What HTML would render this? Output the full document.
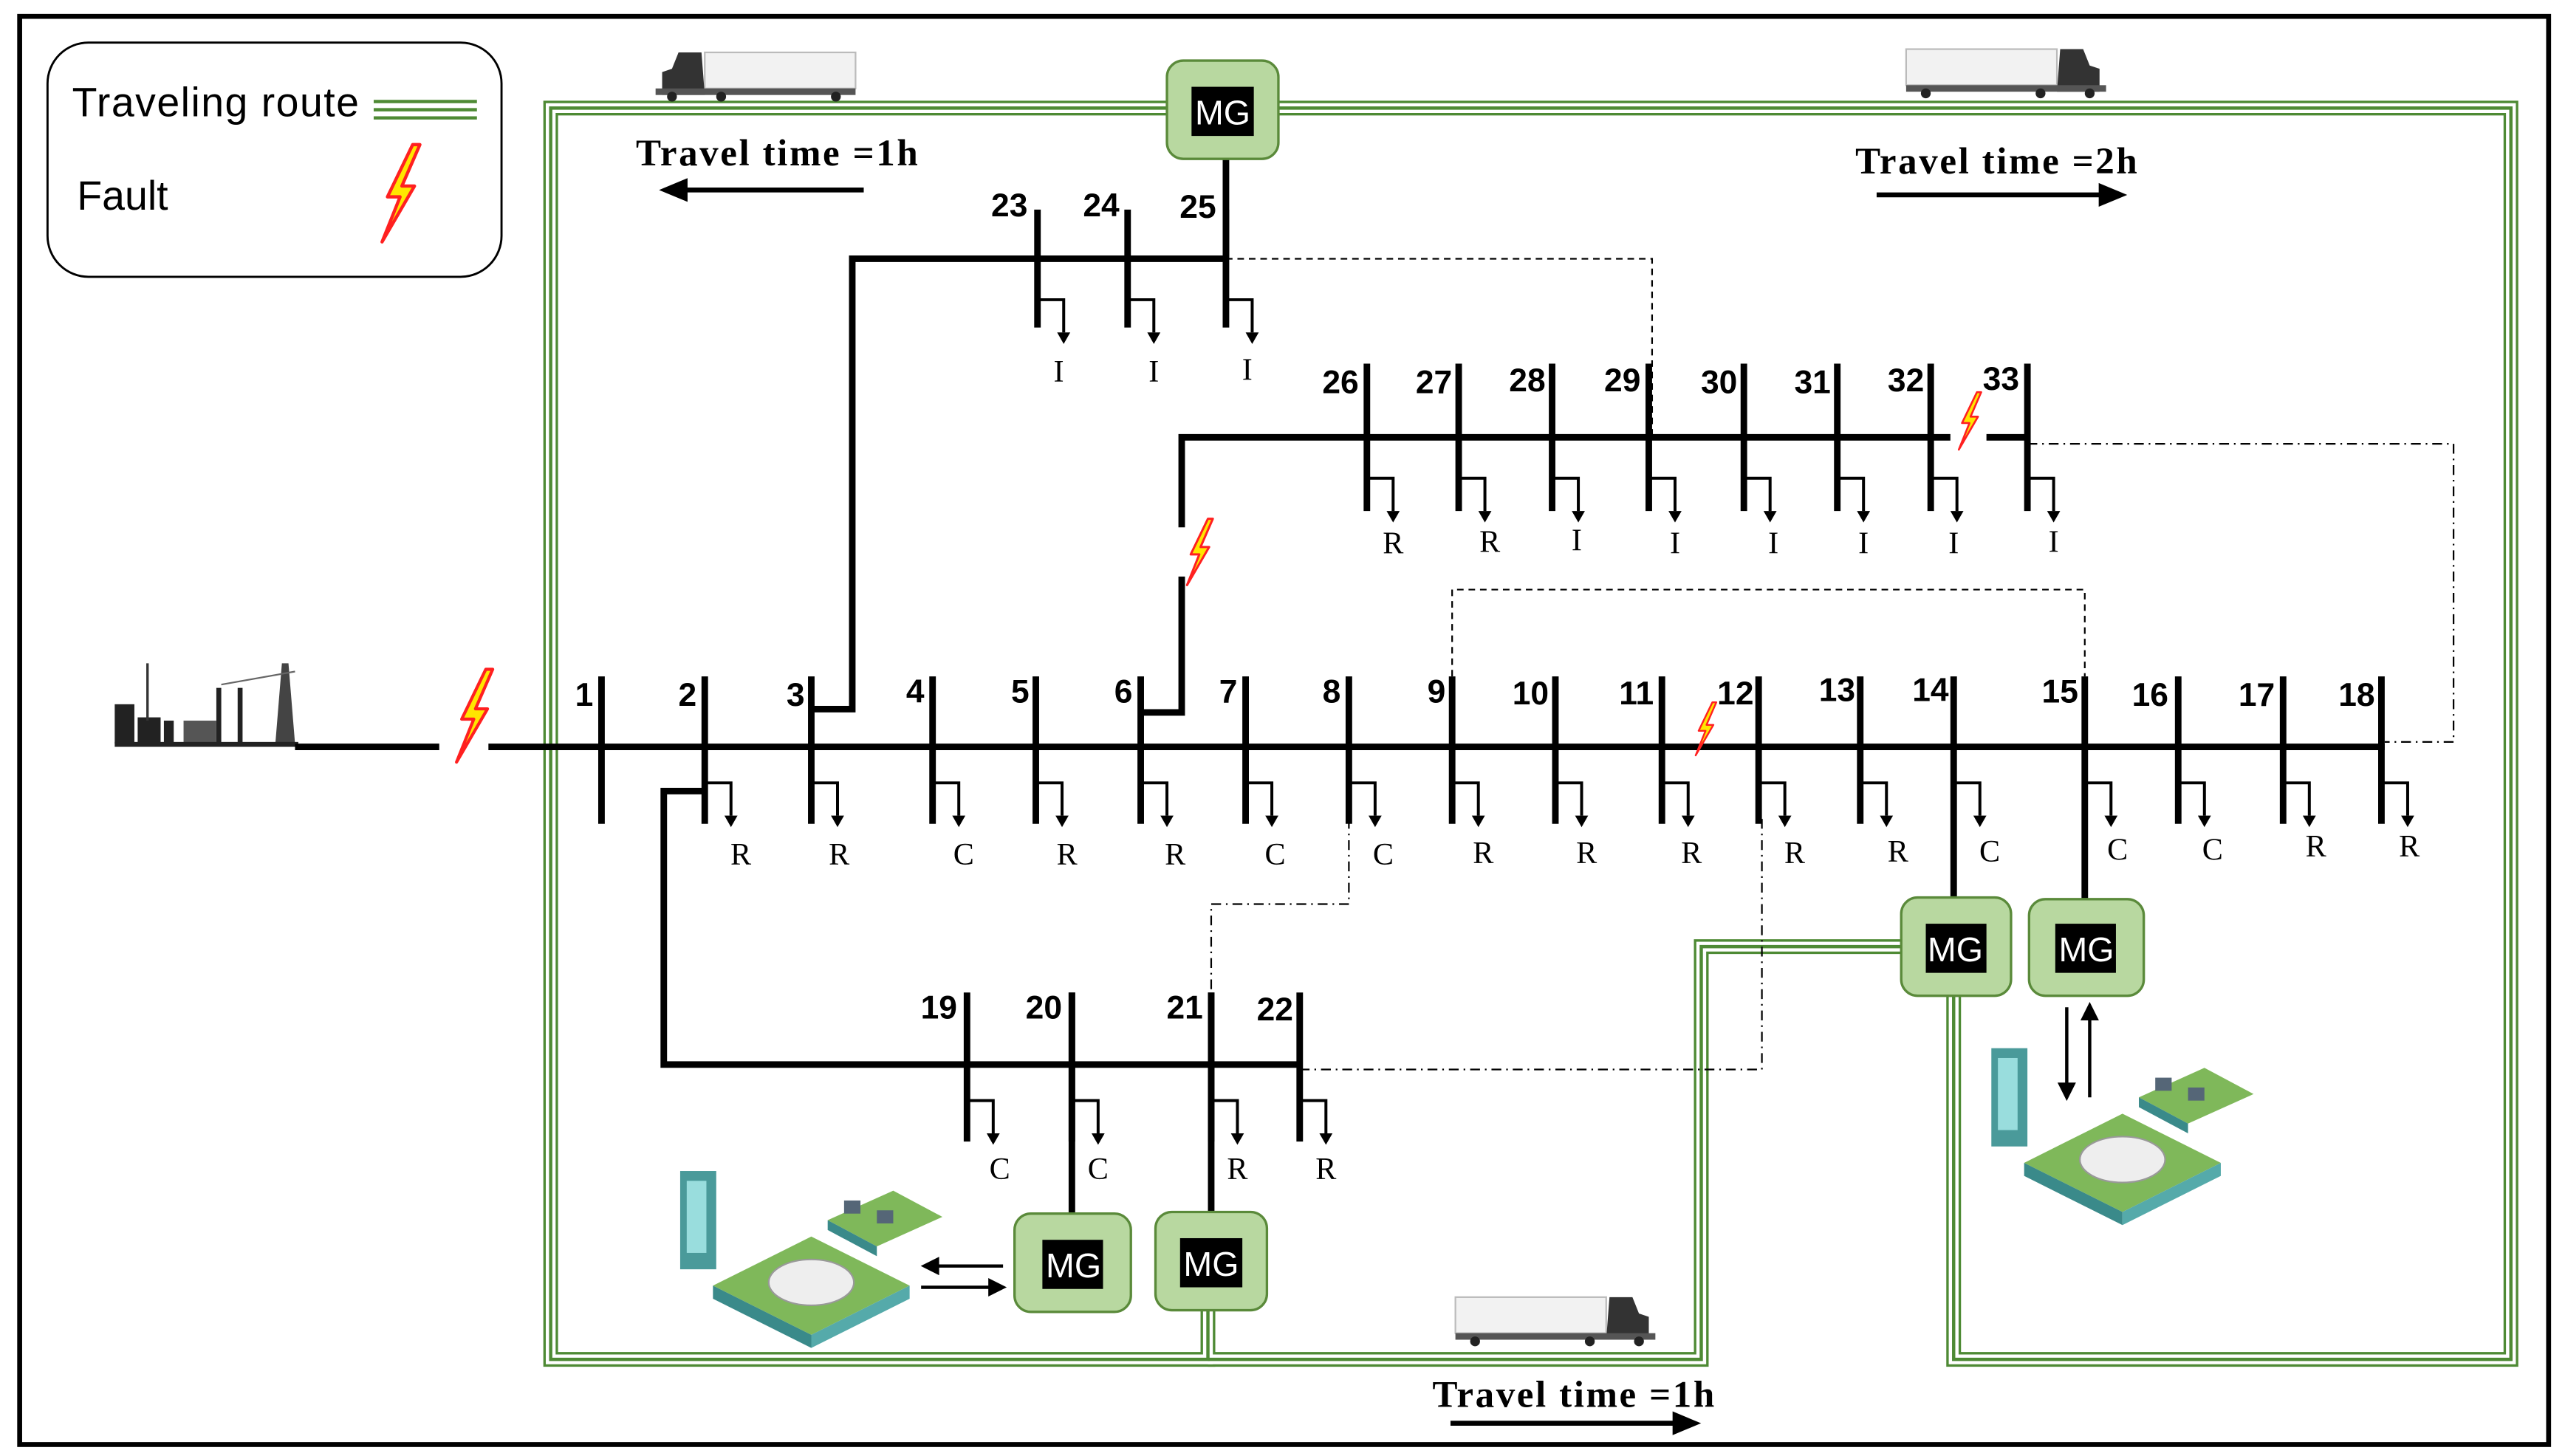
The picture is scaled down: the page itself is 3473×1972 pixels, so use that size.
<!DOCTYPE html>
<html><head><meta charset="utf-8"><style>
html,body{margin:0;padding:0;background:#fff;}
svg{display:block;}
.bl{font-family:"Liberation Sans Narrow","Liberation Sans",sans-serif;font-weight:bold;font-size:20px;}
.ld{font-family:"Liberation Serif",serif;font-size:19px;}
.tt{font-family:"Liberation Serif",serif;font-weight:bold;font-size:23px;}
.mg{font-family:"Liberation Sans Narrow","Liberation Sans",sans-serif;font-size:21px;fill:#fff;}
</style></head><body>
<svg width="3473" height="1972" viewBox="0 0 1565 889" preserveAspectRatio="none" xmlns="http://www.w3.org/2000/svg">
<defs>
<path id="bolt" d="M8,-27 L-6,2 L1,2 L-9,27 L9,-4 L2,-4 L12,-27 Z" fill="#ffe600" stroke="#ff2020" stroke-width="1.8" stroke-linejoin="round"/>
<g id="truckL">
<rect x="30" y="2" width="92" height="22" fill="#f2f2f2" stroke="#bbb"/>
<path d="M4,28 L4,14 L10,12 L14,2 L28,2 L30,28 Z" fill="#333"/>
<rect x="0" y="24" width="122" height="4" fill="#555"/>
<circle cx="10" cy="29" r="3" fill="#222"/><circle cx="40" cy="29" r="3" fill="#222"/><circle cx="110" cy="29" r="3" fill="#222"/>
</g>
<g id="ev">
<rect x="10" y="0" width="22" height="60" fill="#4a9a9a"/>
<rect x="14" y="6" width="12" height="44" fill="#9dd"/>
<polygon points="30,70 90,40 150,70 90,100" fill="#7fb85a"/>
<polygon points="30,70 90,100 90,108 30,78" fill="#3a8a8a"/>
<polygon points="90,100 150,70 150,78 90,108" fill="#5aa"/>
<polygon points="100,30 140,12 170,28 130,46" fill="#7fb85a"/>
<polygon points="100,30 130,46 130,52 100,36" fill="#3a8a8a"/>
<ellipse cx="90" cy="68" rx="26" ry="14" fill="#eee" stroke="#999"/>
<rect x="110" y="18" width="10" height="8" fill="#567"/><rect x="130" y="24" width="10" height="8" fill="#567"/>
</g>
</defs>
<rect x="12" y="10" width="1543" height="872" fill="none" stroke="#000" stroke-width="3"/>
<rect x="29" y="26" width="277" height="143" rx="25" fill="#fff" stroke="#000" stroke-width="1.3"/>
<text x="44" y="71" font-family="Liberation Sans Narrow,Liberation Sans,sans-serif" font-size="25" textLength="175">Traveling route</text>
<text x="47" y="128" font-family="Liberation Sans Narrow,Liberation Sans,sans-serif" font-size="25">Fault</text>
<g stroke="#4e8a34" stroke-width="2"><line x1="228" y1="62" x2="291" y2="62"/><line x1="228" y1="67" x2="291" y2="67"/><line x1="228" y1="72" x2="291" y2="72"/></g>
<use href="#bolt" transform="translate(243 118) scale(1.1)"/>
<g fill="none" stroke-linejoin="miter">
<g stroke="#4e8a34" stroke-width="9">
<path d="M737 800 L737 830 L336 830 L336 66 L712 66"/>
<path d="M780 66 L1532 66 L1532 830 L1192 830 L1192 608"/>
<path d="M737 830 L1038 830 L1038 578 L1160 578"/>
</g>
<g stroke="#fff" stroke-width="6">
<path d="M737 800 L737 830 L336 830 L336 66 L712 66"/>
<path d="M780 66 L1532 66 L1532 830 L1192 830 L1192 608"/>
<path d="M737 830 L1038 830 L1038 578 L1160 578"/>
</g>
<g stroke="#4e8a34" stroke-width="2">
<path d="M737 800 L737 830 L336 830 L336 66 L712 66"/>
<path d="M780 66 L1532 66 L1532 830 L1192 830 L1192 608"/>
<path d="M737 830 L1038 830 L1038 578 L1160 578"/>
</g>
</g>
<g fill="none" stroke="#000" stroke-width="1">
<path d="M748 158 L1008 158 L1008 267" stroke-dasharray="4,3"/>
<path d="M1237 271 L1497 271 L1497 453 L1455 453" stroke-dasharray="6,3,1,3"/>
<path d="M886 413 L886 360 L1272 360 L1272 413" stroke-dasharray="4,3"/>
<path d="M823 500 L823 552 L739 552 L739 606" stroke-dasharray="6,3,1,3"/>
<path d="M793 653 L1075 653 L1075 500" stroke-dasharray="6,3,1,3"/>
</g>
<g fill="#222">
<rect x="70" y="430" width="12" height="24"/><rect x="84" y="438" width="14" height="16"/><rect x="100" y="440" width="6" height="14"/>
<line x1="90" y1="405" x2="90" y2="440" stroke="#333" stroke-width="1.5"/>
<rect x="132" y="420" width="3" height="34"/><rect x="145" y="420" width="3" height="34"/><rect x="112" y="440" width="20" height="14" fill="#555"/>
<path d="M168 454 L172 405 L176 405 L180 454 Z" fill="#444"/>
<line x1="135" y1="418" x2="180" y2="410" stroke="#666"/>
<rect x="70" y="453" width="112" height="3"/>
</g>
<g stroke="#000" stroke-width="4" fill="none">
<line x1="180" y1="456" x2="268" y2="456"/>
<line x1="298" y1="456" x2="1455" y2="456"/>
<path d="M495 433 L520 433 L520 158 L748 158"/>
<path d="M696 435 L721 435 L721 352"/>
<path d="M721 322 L721 267 L1190 267"/>
<line x1="1212" y1="267" x2="1237" y2="267"/>
<path d="M430 483 L405 483 L405 650 L793 650"/>
<line x1="748" y1="97" x2="748" y2="158"/>
<line x1="654" y1="606" x2="654" y2="741"/>
<line x1="739" y1="606" x2="739" y2="740"/>
<line x1="1192" y1="413" x2="1192" y2="548"/>
<line x1="1272" y1="413" x2="1272" y2="549"/>
</g>
<g stroke="#000" stroke-width="4">
<line x1="367" y1="413" x2="367" y2="503"/><line x1="430" y1="413" x2="430" y2="503"/><line x1="495" y1="413" x2="495" y2="503"/>
<line x1="569" y1="413" x2="569" y2="503"/><line x1="632" y1="413" x2="632" y2="503"/><line x1="696" y1="413" x2="696" y2="503"/>
<line x1="760" y1="413" x2="760" y2="503"/><line x1="823" y1="413" x2="823" y2="503"/><line x1="886" y1="413" x2="886" y2="503"/>
<line x1="949" y1="413" x2="949" y2="503"/><line x1="1014" y1="413" x2="1014" y2="503"/><line x1="1073" y1="413" x2="1073" y2="503"/>
<line x1="1135" y1="413" x2="1135" y2="503"/><line x1="1329" y1="413" x2="1329" y2="503"/><line x1="1393" y1="413" x2="1393" y2="503"/>
<line x1="1453" y1="413" x2="1453" y2="503"/>
<line x1="633" y1="128" x2="633" y2="200"/><line x1="688" y1="128" x2="688" y2="200"/><line x1="748" y1="128" x2="748" y2="200"/>
<line x1="834" y1="222" x2="834" y2="312"/><line x1="890" y1="222" x2="890" y2="312"/><line x1="947" y1="222" x2="947" y2="312"/>
<line x1="1006" y1="222" x2="1006" y2="312"/><line x1="1064" y1="222" x2="1064" y2="312"/><line x1="1121" y1="222" x2="1121" y2="312"/>
<line x1="1178" y1="222" x2="1178" y2="312"/><line x1="1237" y1="222" x2="1237" y2="312"/>
<line x1="590" y1="606" x2="590" y2="697"/><line x1="654" y1="606" x2="654" y2="697"/><line x1="739" y1="606" x2="739" y2="697"/><line x1="793" y1="606" x2="793" y2="697"/>
</g>
<g stroke="#000" stroke-width="1.8" fill="none">
<path d="M430 478 h16 v20 M495 478 h16 v20 M569 478 h16 v20 M632 478 h16 v20 M696 478 h16 v20 M760 478 h16 v20 M823 478 h16 v20 M886 478 h16 v20 M949 478 h16 v20 M1014 478 h16 v20 M1073 478 h16 v20 M1135 478 h16 v20 M1192 478 h16 v20 M1272 478 h16 v20 M1329 478 h16 v20 M1393 478 h16 v20 M1453 478 h16 v20"/>
<path d="M633 183 h16 v20 M688 183 h16 v20 M748 183 h16 v20"/>
<path d="M834 292 h16 v20 M890 292 h16 v20 M947 292 h16 v20 M1006 292 h16 v20 M1064 292 h16 v20 M1121 292 h16 v20 M1178 292 h16 v20 M1237 292 h16 v20"/>
<path d="M590 672 h16 v20 M654 672 h16 v20 M739 672 h16 v20 M793 672 h16 v20"/>
</g>
<g fill="#000">
<path d="M442 498 h8 l-4 7z M507 498 h8 l-4 7z M581 498 h8 l-4 7z M644 498 h8 l-4 7z M708 498 h8 l-4 7z M772 498 h8 l-4 7z M835 498 h8 l-4 7z M898 498 h8 l-4 7z M961 498 h8 l-4 7z M1026 498 h8 l-4 7z M1085 498 h8 l-4 7z M1147 498 h8 l-4 7z M1204 498 h8 l-4 7z M1284 498 h8 l-4 7z M1341 498 h8 l-4 7z M1405 498 h8 l-4 7z M1465 498 h8 l-4 7z"/>
<path d="M645 203 h8 l-4 7z M700 203 h8 l-4 7z M760 203 h8 l-4 7z"/>
<path d="M846 312 h8 l-4 7z M902 312 h8 l-4 7z M959 312 h8 l-4 7z M1018 312 h8 l-4 7z M1076 312 h8 l-4 7z M1133 312 h8 l-4 7z M1190 312 h8 l-4 7z M1249 312 h8 l-4 7z"/>
<path d="M602 692 h8 l-4 7z M666 692 h8 l-4 7z M751 692 h8 l-4 7z M805 692 h8 l-4 7z"/>
</g>
<g class="ld" text-anchor="middle">
<text x="452" y="528">R</text><text x="512" y="528">R</text><text x="588" y="528">C</text><text x="651" y="528">R</text><text x="717" y="528">R</text><text x="778" y="528">C</text><text x="844" y="528">C</text><text x="905" y="527">R</text><text x="968" y="527">R</text><text x="1032" y="527">R</text><text x="1095" y="527">R</text><text x="1158" y="526">R</text><text x="1214" y="526">C</text><text x="1292" y="525">C</text><text x="1350" y="525">C</text><text x="1413" y="523">R</text><text x="1470" y="523">R</text>
<text x="646" y="233">I</text><text x="704" y="233">I</text><text x="761" y="232">I</text>
<text x="850" y="338">R</text><text x="909" y="337">R</text><text x="962" y="336">I</text><text x="1022" y="338">I</text><text x="1082" y="338">I</text><text x="1137" y="338">I</text><text x="1192" y="338">I</text><text x="1253" y="337">I</text>
<text x="610" y="720">C</text><text x="670" y="720">C</text><text x="755" y="720">R</text><text x="809" y="720">R</text>
</g>
<g class="bl" text-anchor="end">
<text x="362" y="431">1</text><text x="425" y="431">2</text><text x="491" y="431">3</text><text x="564" y="429">4</text><text x="628" y="429">5</text><text x="691" y="429">6</text><text x="755" y="429">7</text><text x="818" y="429">8</text><text x="882" y="429">9</text><text x="945" y="430">10</text><text x="1009" y="430">11</text><text x="1070" y="430">12</text><text x="1132" y="428">13</text><text x="1189" y="428">14</text><text x="1268" y="429">15</text><text x="1323" y="431">16</text><text x="1388" y="431">17</text><text x="1449" y="431">18</text>
<text x="627" y="132">23</text><text x="683" y="132">24</text><text x="742" y="133">25</text>
<text x="829" y="240">26</text><text x="886" y="240">27</text><text x="943" y="239">28</text><text x="1001" y="239">29</text><text x="1060" y="240">30</text><text x="1117" y="240">31</text><text x="1174" y="239">32</text><text x="1232" y="238">33</text>
<text x="584" y="622">19</text><text x="648" y="622">20</text><text x="734" y="622">21</text><text x="789" y="623">22</text>
</g>
<use href="#bolt" transform="translate(288 437) scale(1.05)"/>
<use href="#bolt" transform="translate(731 337) scale(0.75)"/>
<use href="#bolt" transform="translate(1040 445) scale(0.6)"/>
<use href="#bolt" transform="translate(1201 257) scale(0.65)"/>
<g stroke="#5a8a3a" stroke-width="1.5" fill="#b8d8a0">
<rect x="712" y="37" width="68" height="60" rx="10"/>
<rect x="1160" y="548" width="67" height="60" rx="10"/>
<rect x="1238" y="549" width="70" height="59" rx="10"/>
<rect x="619" y="741" width="71" height="60" rx="10"/>
<rect x="705" y="740" width="68" height="60" rx="10"/>
</g>
<g fill="#000">
<rect x="727" y="53" width="38" height="30"/><rect x="1175" y="564" width="37" height="30"/><rect x="1254" y="564" width="37" height="30"/><rect x="636" y="757" width="37" height="30"/><rect x="720" y="756" width="38" height="30"/>
</g>
<g class="mg" text-anchor="middle">
<text x="746" y="76">MG</text><text x="1193" y="587">MG</text><text x="1273" y="587">MG</text><text x="655" y="780">MG</text><text x="739" y="779">MG</text>
</g>
<g stroke="#000" stroke-width="2" fill="#000">
<line x1="1261" y1="615" x2="1261" y2="664"/><path d="M1257 662 h8 l-4 8z"/>
<line x1="1275" y1="620" x2="1275" y2="670"/><path d="M1271 622 h8 l-4 -8z"/>
<line x1="570" y1="773" x2="612" y2="773"/><path d="M572 769 v8 l-8 -4z"/>
<line x1="562" y1="786" x2="606" y2="786"/><path d="M604 782 v8 l8 -4z"/>
</g>
<use href="#ev" x="1205" y="640"/>
<use href="#ev" x="405" y="715"/>
<use href="#truckL" x="400" y="30"/>
<g transform="translate(1285 28) scale(-1 1)"><use href="#truckL"/></g>
<g transform="translate(1010 790) scale(-1 1)"><use href="#truckL"/></g>
<text class="tt" x="388" y="101" textLength="172">Travel time =1h</text>
<text class="tt" x="1132" y="106" textLength="172">Travel time =2h</text>
<text class="tt" x="874" y="859" textLength="172">Travel time =1h</text>
<g stroke="#000" stroke-width="3" fill="#000">
<line x1="416" y1="116" x2="527" y2="116"/><path d="M406 116 l12 -5 v10z"/>
<line x1="1145" y1="119" x2="1283" y2="119"/><path d="M1294 119 l-12 -5 v10z"/>
<line x1="885" y1="869" x2="1023" y2="869"/><path d="M1034 869 l-12 -5 v10z"/>
</g>
</svg>
</body></html>
